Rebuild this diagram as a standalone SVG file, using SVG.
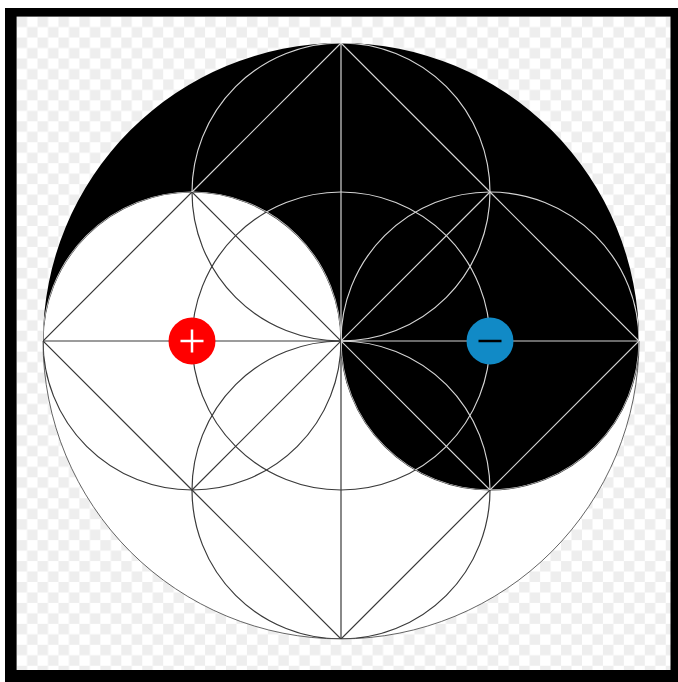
<svg xmlns="http://www.w3.org/2000/svg" width="678" height="682" viewBox="0 0 678 682">
  <style>
    .geo { fill: none; stroke-width: 1.2; }
    .light { stroke: #d4d4d4; }
    .dark { stroke: #3a3a3a; }
  </style>
  <defs>
    <pattern id="checker" x="16.6" y="16.6" width="20.94" height="20.94" patternUnits="userSpaceOnUse">
      <rect width="20.94" height="20.94" fill="#ffffff"/>
      <rect width="10.47" height="10.47" fill="#eeeeee"/>
      <rect x="10.47" y="10.47" width="10.47" height="10.47" fill="#eeeeee"/>
    </pattern>
    <path id="yang" d="M43 341A298 298 0 0 1 639 341A149 149 0 0 1 341 341A149 149 0 0 0 43 341Z"/>
    <path id="yin" d="M43 341A149 149 0 0 1 341 341A149 149 0 0 0 639 341A298 298 0 0 1 43 341Z"/>
    <clipPath id="inBlack"><use href="#yang"/></clipPath>
    <clipPath id="inWhite"><use href="#yin"/></clipPath>
    <g id="geometry">
      <circle cx="341" cy="192" r="149"/>
      <circle cx="192" cy="341" r="149"/>
      <circle cx="490" cy="341" r="149"/>
      <circle cx="341" cy="490" r="149"/>
      <circle cx="341" cy="341" r="149"/>
      <path d="M341 43L490 192L639 341L490 490L341 639L192 490L43 341L192 192Z"/>
      <path d="M192 192L490 490M490 192L192 490"/>
      <path d="M43 341H639M341 43V639"/>
    </g>
  </defs>
  <rect id="frame" x="5" y="8" width="673" height="674" fill="#000000"/>
  <rect id="board" x="16.6" y="16.6" width="653.9" height="653.4" fill="url(#checker)"/>
  <g id="disc">
    <circle cx="341" cy="341" r="298" fill="#ffffff"/>
    <use href="#yang" fill="#000000"/>
    <path d="M43 341A298 298 0 0 0 639 341" fill="none" stroke="#222222" stroke-width="0.7"/>
  </g>
  <g id="connectors">
    <use href="#geometry" class="geo dark" clip-path="url(#inWhite)"/>
    <use href="#geometry" class="geo light" clip-path="url(#inBlack)"/>
  </g>
  <g id="node-plus">
    <circle cx="192" cy="341" r="23.5" fill="#ff0000"/>
    <path d="M180.500 341H203.500M192 329.500V352.500" stroke="#ffffff" stroke-width="2.500" fill="none"/>
  </g>
  <g id="node-minus">
    <circle cx="490" cy="341" r="23.500" fill="#118ac6"/>
    <path d="M478.500 341H501.500" stroke="#000000" stroke-width="2.500" fill="none"/>
  </g>
</svg>
